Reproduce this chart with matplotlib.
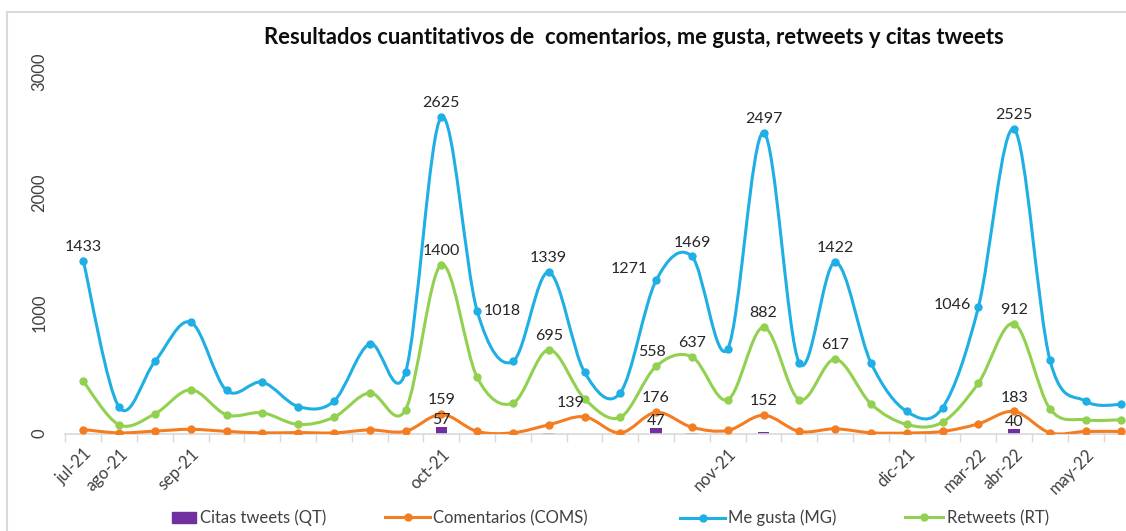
import matplotlib as mpl
mpl.use('agg')
import matplotlib.pyplot as plt
from matplotlib.path import Path
from matplotlib.patches import PathPatch, Patch
from matplotlib.lines import Line2D
import matplotlib.transforms as mtransforms

plt.rcParams['font.family'] = ['Lato', 'DejaVu Sans']

# categories (only some carry a month label, as in the original sheet)
months = ['jul-21', 'ago-21', '', 'sep-21', '', '', '', '', '', '',
          'oct-21', '', '', '', '', '', '', '', 'nov-21', '',
          '', '', '', 'dic-21', '', 'mar-22', 'abr-22', '', 'may-22', '']

me_gusta = [1433, 218, 598, 924, 357, 426, 224, 268, 744, 509,
            2625, 1018, 598, 1339, 509, 338, 1271, 1469, 703, 2497,
            584, 1422, 587, 183, 213, 1046, 2525, 611, 268, 241]
retweets = [432, 72, 163, 363, 155, 172, 75, 135, 338, 197,
            1400, 467, 252, 695, 288, 135, 558, 637, 280, 882,
            280, 617, 246, 75, 94, 417, 912, 205, 114, 114]
comentarios = [33, 5, 20, 35, 18, 5, 8, 5, 30, 18,
               159, 17, 6, 72, 139, 5, 176, 52, 25, 152,
               17, 39, 6, 4, 17, 80, 183, 6, 17, 17]
citas = [0, 0, 0, 0, 0, 0, 0, 0, 0, 0,
         57, 0, 0, 5, 0, 0, 47, 6, 0, 12,
         0, 0, 0, 0, 0, 0, 40, 0, 0, 0]

# which points get a value label: index -> (dx, dy, ha, va)
mg_labels = {0: (0, 5, 'center', 'bottom'), 10: (0, 5, 'center', 'bottom'),
             11: (5, 0, 'left', 'center'), 13: (0, 5, 'center', 'bottom'),
             16: (-6, 3, 'right', 'bottom'), 17: (0, 5, 'center', 'bottom'),
             19: (0, 5, 'center', 'bottom'), 21: (0, 5, 'center', 'bottom'),
             25: (-5, 2, 'right', 'center'), 26: (0, 5, 'center', 'bottom')}
rt_labels = {10: (0, 5, 'center', 'bottom'), 13: (0, 5, 'center', 'bottom'),
             16: (-3, 5, 'center', 'bottom'), 17: (0, 5, 'center', 'bottom'),
             19: (0, 5, 'center', 'bottom'), 21: (0, 5, 'center', 'bottom'),
             26: (0, 5, 'center', 'bottom')}
coms_labels = {10: (0, 5, 'center', 'bottom'), 14: (-10, 5, 'center', 'bottom'),
               16: (0, 5, 'center', 'bottom'), 19: (0, 5, 'center', 'bottom'),
               26: (0, 5, 'center', 'bottom')}
qt_labels = {10: (0, 0, 'center', 'bottom'), 16: (0, 0, 'center', 'bottom'),
             26: (0, 0, 'center', 'bottom')}

c_mg = '#1FAFE4'
c_rt = '#92D050'
c_coms = '#F47D22'
c_qt = '#7030A0'
txt = '#262626'


def smooth(ax, xs, ys, color):
	# excel-like smoothed line (catmull-rom as bezier)
	n = len(xs)
	verts = [(xs[0], ys[0])]
	codes = [Path.MOVETO]
	for i in range(n - 1):
		x0, y0 = (xs[i - 1], ys[i - 1]) if i > 0 else (xs[i], ys[i])
		x3, y3 = (xs[i + 2], ys[i + 2]) if i + 2 < n else (xs[i + 1], ys[i + 1])
		c1 = (xs[i] + (xs[i + 1] - x0) / 6.0, ys[i] + (ys[i + 1] - y0) / 6.0)
		c2 = (xs[i + 1] - (x3 - xs[i]) / 6.0, ys[i + 1] - (y3 - ys[i]) / 6.0)
		verts += [c1, c2, (xs[i + 1], ys[i + 1])]
		codes += [Path.CURVE4] * 3
	ax.add_patch(PathPatch(Path(verts, codes), facecolor='none', edgecolor=color, lw=2.2, zorder=3))
	ax.plot(xs, ys, ls='none', marker='o', ms=5, color=color, zorder=4)


def labels(ax, xs, ys, spec):
	for i, (dx, dy, ha, va) in spec.items():
		ax.annotate(str(ys[i]), (xs[i], ys[i]), xytext=(dx, dy), textcoords='offset points',
		            ha=ha, va=va, fontsize=11.5, color=txt, zorder=6)


fig = plt.figure(figsize=(11.26, 5.31), dpi=100)
ax = fig.add_axes([0.0581, 0.1836, 0.9538, 0.6808])

x = list(range(len(months)))
ax.bar(x, citas, width=0.32, color=c_qt, zorder=2)
smooth(ax, x, comentarios, c_coms)
smooth(ax, x, retweets, c_rt)
smooth(ax, x, me_gusta, c_mg)

labels(ax, x, me_gusta, mg_labels)
labels(ax, x, retweets, rt_labels)
labels(ax, x, comentarios, coms_labels)
labels(ax, x, citas, qt_labels)

ax.set_xlim(-0.5, len(months) - 0.5)
ax.set_ylim(0, 3000)
ax.set_yticks([0, 1000, 2000, 3000])
ax.set_yticklabels(['0', '1000', '2000', '3000'], rotation=90, va='center', fontsize=12, color='#404040')
ax.tick_params(axis='y', length=0, pad=13)

ax.set_xticks(x)
ax.set_xticklabels(months, rotation=45, ha='right', va='center', rotation_mode='anchor',
                   fontsize=12, color='#404040')
ax.tick_params(axis='x', which='major', length=0, pad=13)
ax.set_xticks([i - 0.5 for i in range(len(months) + 1)], minor=True)
ax.tick_params(axis='x', which='minor', length=6, color='#D9D9D9', width=1)
off = mtransforms.ScaledTranslation(6 / 100, 0, fig.dpi_scale_trans)
for lab in ax.get_xticklabels():
	lab.set_transform(lab.get_transform() + off)

for s in ['left', 'top', 'right']:
	ax.spines[s].set_visible(False)
ax.spines['bottom'].set_color('#D9D9D9')
ax.spines['bottom'].set_linewidth(1.2)

fig.text(633.5 / 1126, 1 - 38 / 531, 'Resultados cuantitativos de  comentarios, me gusta, retweets y citas tweets',
         ha='center', va='center', fontsize=15.8, fontweight='bold', color='#0D0D0D')

# chart area border
fig.add_artist(Line2D([7 / 1126, 1.0], [1 - 12 / 531, 1 - 12 / 531], color='#D9D9D9', lw=1.5))
fig.add_artist(Line2D([7 / 1126, 7 / 1126], [0, 1 - 12 / 531], color='#D9D9D9', lw=1.5))

# legend, one entry at a time to keep the original spacing
entries = [
	(Patch(color=c_qt), 'Citas tweets (QT)', 172, 1.45),
	(Line2D([], [], color=c_coms, lw=2.2, marker='o', ms=5), 'Comentarios (COMS)', 385, 2.7),
	(Line2D([], [], color=c_mg, lw=2.2, marker='o', ms=5), 'Me gusta (MG)', 680, 2.7),
	(Line2D([], [], color=c_rt, lw=2.2, marker='o', ms=5), 'Retweets (RT)', 905, 2.3),
]
for h, t, px, hl in entries:
	leg = fig.legend([h], [t], loc='center left', bbox_to_anchor=(px / 1126, 13 / 531),
	                 frameon=False, borderpad=0, borderaxespad=0, handlelength=hl,
	                 handleheight=0.6, handletextpad=0.2, fontsize=12)
	for tx in leg.get_texts():
		tx.set_color('#404040')

plt.savefig('out.png', dpi=100)
